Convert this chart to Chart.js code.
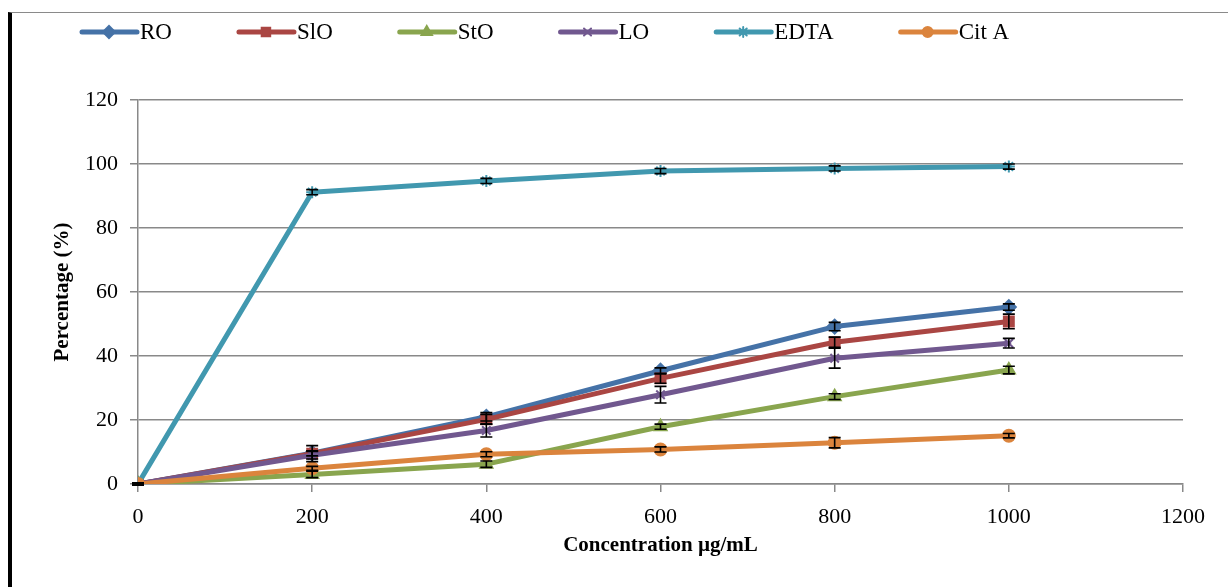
<!DOCTYPE html>
<html>
<head>
<meta charset="utf-8">
<script src="https://cdn.jsdelivr.net/npm/chart.js@4.4.1/dist/chart.umd.min.js"></script>
<style>
  html, body { margin: 0; padding: 0; background: #fff; }
  #wrap { position: relative; width: 1228px; height: 587px; }
  #frame { position: absolute; left: 8px; top: 12px; right: 0; bottom: 0;
           border-left: 4px solid #000; border-top: 1px solid #8a8a8a; pointer-events: none; }
</style>
</head>
<body>
<div id="wrap">
  <canvas id="chart" width="1228" height="587"></canvas>
  <div id="frame"></div>
</div>
<script>
// concentrations (µg/mL)
const concentrations = [0, 200, 400, 600, 800, 1000];

// % values per sample
const seriesNames = ["RO", "SlO", "StO", "LO", "EDTA", "Cit A"];
const roValues   = [0, 9.6, 21, 35.4, 49.2, 55.3];
const sloValues  = [0, 9.5, 20.2, 33, 44.3, 50.8];
const stoValues  = [0, 3, 6.2, 17.9, 27.3, 35.6];
const loValues   = [0, 9, 16.7, 27.9, 39.3, 44];
const edtaValues = [0, 91.2, 94.7, 97.8, 98.6, 99.2];
const citaValues = [0, 4.9, 9.3, 10.8, 12.9, 15.1];

// error bar sizes (±)
const roErr   = [0.4, 0.8, 1.3, 0.9, 1.3, 1];
const sloErr  = [0.4, 2.5, 1.5, 1.5, 1.6, 2.3];
const stoErr  = [0.4, 1, 1, 0.8, 0.9, 1.2];
const loErr   = [0.4, 1.2, 2, 2.6, 3.1, 1.5];
const edtaErr = [0.4, 0.8, 0.8, 0.8, 0.8, 0.8];
const citaErr = [0.4, 0.6, 0.8, 0.8, 1.6, 0.7];

const xTicks = [0, 200, 400, 600, 800, 1000, 1200];
const yTicks = [0, 20, 40, 60, 80, 100, 120];

const colors = ["#4572A7", "#AA4643", "#89A54E", "#71588F", "#4198AF", "#DB843D"];
const markers = ["rectRot", "rect", "triangle", "crossRot", "star", "circle"];
const markerSizes = [7, 7, 7, 6, 6, 6];

const allValues = [roValues, sloValues, stoValues, loValues, edtaValues, citaValues];
const allErrors = [roErr, sloErr, stoErr, loErr, edtaErr, citaErr];

const FONT = "'Liberation Serif', 'Times New Roman', serif";

const datasets = seriesNames.map((name, i) => ({
  label: name,
  data: concentrations.map((c, j) => ({ x: c, y: allValues[i][j] })),
  errors: allErrors[i],
  borderColor: colors[i],
  backgroundColor: colors[i],
  borderWidth: 5,
  borderJoinStyle: 'round',
  borderCapStyle: 'round',
  pointStyle: markers[i],
  pointRadius: markerSizes[i],
  pointBorderWidth: 2,
  pointBorderColor: colors[i],
  pointBackgroundColor: colors[i],
  tension: 0,
  order: seriesNames.length - i
}));

// black error bars on every point
const errorBars = {
  id: 'errorBars',
  afterDatasetsDraw(chart) {
    const ctx = chart.ctx;
    const yScale = chart.scales.y;
    ctx.save();
    ctx.strokeStyle = '#000';
    ctx.lineWidth = 1.6;
    chart.data.datasets.forEach((ds, i) => {
      const meta = chart.getDatasetMeta(i);
      meta.data.forEach((pt, j) => {
        const v = ds.data[j].y, e = ds.errors[j];
        const top = yScale.getPixelForValue(v + e);
        const bot = yScale.getPixelForValue(v - e);
        ctx.beginPath();
        ctx.moveTo(pt.x, top); ctx.lineTo(pt.x, bot);
        ctx.moveTo(pt.x - 6, top); ctx.lineTo(pt.x + 6, top);
        ctx.moveTo(pt.x - 6, bot); ctx.lineTo(pt.x + 6, bot);
        ctx.stroke();
      });
    });
    ctx.restore();
  }
};

// legend row with line + marker like the original
const lineLegend = {
  id: 'lineLegend',
  afterDraw(chart) {
    const ctx = chart.ctx;
    ctx.save();
    ctx.font = "23px " + FONT;
    ctx.textBaseline = 'middle';
    let x = 82;
    const y = 32;
    chart.data.datasets.forEach((ds, i) => {
      ctx.strokeStyle = colors[i];
      ctx.fillStyle = colors[i];
      ctx.lineWidth = 5;
      ctx.lineCap = 'round';
      ctx.beginPath();
      ctx.moveTo(x, y); ctx.lineTo(x + 55, y);
      ctx.stroke();
      ctx.lineWidth = 2;
      Chart.helpers.drawPoint(ctx, { pointStyle: markers[i], radius: markerSizes[i] - 1, borderWidth: 2, rotation: 0 }, x + 27, y);
      ctx.fillStyle = '#000';
      ctx.fillText(ds.label, x + 58, y + 1);
      x += 58 + ctx.measureText(ds.label).width + 67;
    });
    ctx.restore();
  }
};

new Chart(document.getElementById('chart').getContext('2d'), {
  type: 'line',
  data: { datasets },
  plugins: [errorBars, lineLegend],
  options: {
    responsive: false,
    animation: false,
    layout: { padding: { left: 0, right: 45, top: 100, bottom: 0 } },
    plugins: { legend: { display: false }, tooltip: { enabled: false } },
    scales: {
      x: {
        type: 'linear',
        min: 0, max: 1200,
        afterBuildTicks: (s) => { s.ticks = xTicks.map(v => ({ value: v })); },
        afterFit: (s) => { s.height = 103; },
        ticks: { color: '#000', font: { family: FONT, size: 22 }, padding: 12, maxRotation: 0,
                 callback: (v) => String(v) },
        grid: { drawOnChartArea: false, drawTicks: true, tickLength: 8, color: '#898989', lineWidth: 1.5 },
        border: { display: true, color: '#898989', width: 1.5 },
        title: { display: true, text: 'Concentration µg/mL', color: '#000',
                 font: { family: FONT, size: 21, weight: 'bold' }, padding: { top: 0, bottom: 29 } }
      },
      y: {
        min: 0, max: 120,
        afterBuildTicks: (s) => { s.ticks = yTicks.map(v => ({ value: v })); },
        afterFit: (s) => { s.width = 138; },
        ticks: { color: '#000', font: { family: FONT, size: 22 }, padding: 12,
                 callback: (v) => String(v) },
        grid: { color: '#898989', lineWidth: 1.5, tickLength: 8 },
        border: { display: true, color: '#898989', width: 1.5 },
        title: { display: true, text: 'Percentage (%)', color: '#000',
                 font: { family: FONT, size: 21, weight: 'bold' }, padding: { top: 50, bottom: 0 } }
      }
    }
  }
});
</script>
</body>
</html>
